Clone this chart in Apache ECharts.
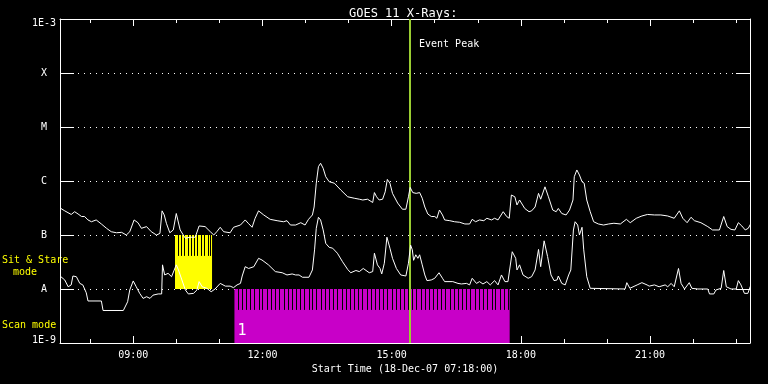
<!DOCTYPE html>
<html>
<head>
<meta charset="utf-8">
<title>GOES 11 X-Rays</title>
<script src="https://cdn.jsdelivr.net/npm/echarts@6/dist/echarts.min.js"></script>
<style>
html, body { margin: 0; padding: 0; background: #000; }
#chart { width: 768px; height: 384px; }
</style>
</head>
<body>
<div id="chart"></div>
<script>
'use strict';

// [hour of day, flux W/m^2]
const longChannel = [
  [7.32, 3.1e-7], [7.41, 2.8e-7], [7.56, 2.4e-7], [7.64, 2.7e-7], [7.72, 2.45e-7], [7.80, 2.2e-7],
  [7.87, 2.2e-7], [7.95, 1.9e-7], [8.03, 1.76e-7], [8.14, 1.9e-7], [8.26, 1.6e-7], [8.38, 1.33e-7],
  [8.49, 1.15e-7], [8.61, 1.1e-7], [8.73, 1.12e-7], [8.84, 1.0e-7], [8.92, 1.15e-7], [9.02, 1.9e-7],
  [9.11, 1.69e-7], [9.19, 1.33e-7], [9.31, 1.43e-7], [9.42, 1.15e-7], [9.54, 1.0e-7], [9.62, 1.07e-7],
  [9.67, 2.8e-7], [9.72, 2.35e-7], [9.77, 1.65e-7], [9.85, 1.1e-7], [9.93, 1.24e-7], [10.00, 2.5e-7],
  [10.04, 2.35e-7], [10.09, 1.24e-7], [10.21, 8.7e-8], [10.32, 9.1e-8], [10.44, 9.1e-8], [10.53, 1.47e-7],
  [10.67, 1.43e-7], [10.79, 1.15e-7], [10.87, 1.0e-7], [10.94, 1.15e-7], [11.02, 1.39e-7], [11.10, 1.15e-7],
  [11.25, 1.1e-7], [11.33, 1.39e-7], [11.49, 1.53e-7], [11.60, 1.9e-7], [11.67, 1.65e-7], [11.76, 1.39e-7],
  [11.83, 2.04e-7], [11.91, 2.8e-7], [12.03, 2.35e-7], [12.18, 1.95e-7], [12.34, 1.84e-7], [12.49, 1.76e-7],
  [12.57, 1.84e-7], [12.65, 1.53e-7], [12.77, 1.53e-7], [12.81, 1.6e-7], [12.89, 1.69e-7], [12.99, 1.53e-7],
  [13.07, 1.95e-7], [13.16, 2.35e-7], [13.20, 3.3e-7], [13.25, 9.1e-7], [13.30, 1.84e-6], [13.35, 2.13e-6],
  [13.41, 1.72e-6], [13.47, 1.2e-6], [13.55, 9.7e-7], [13.67, 9.1e-7], [13.82, 6.8e-7], [13.98, 5.1e-7],
  [14.13, 4.8e-7], [14.25, 4.6e-7], [14.33, 4.45e-7], [14.44, 4.6e-7], [14.56, 4.0e-7], [14.60, 6.1e-7],
  [14.65, 5.1e-7], [14.71, 4.45e-7], [14.79, 4.6e-7], [14.85, 6.3e-7], [14.90, 1.07e-6], [14.96, 9.1e-7],
  [15.02, 5.9e-7], [15.14, 3.9e-7], [15.25, 3.0e-7], [15.33, 3.0e-7], [15.39, 5.1e-7], [15.43, 7.6e-7],
  [15.49, 6.1e-7], [15.57, 5.9e-7], [15.65, 6.1e-7], [15.71, 4.8e-7], [15.77, 3.3e-7], [15.84, 2.45e-7],
  [15.92, 2.2e-7], [16.00, 2.2e-7], [16.05, 2.04e-7], [16.11, 2.9e-7], [16.18, 2.35e-7], [16.23, 1.9e-7],
  [16.35, 1.84e-7], [16.46, 1.76e-7], [16.58, 1.72e-7], [16.70, 1.6e-7], [16.81, 1.6e-7], [16.87, 1.95e-7],
  [16.95, 1.76e-7], [17.04, 1.9e-7], [17.14, 1.84e-7], [17.21, 2.04e-7], [17.32, 1.9e-7], [17.39, 2.04e-7],
  [17.47, 1.9e-7], [17.59, 2.7e-7], [17.67, 2.2e-7], [17.73, 2.04e-7], [17.78, 5.5e-7], [17.86, 5.1e-7],
  [17.91, 3.6e-7], [17.97, 4.45e-7], [18.09, 3.1e-7], [18.19, 2.7e-7], [18.25, 2.8e-7], [18.33, 3.3e-7],
  [18.41, 5.9e-7], [18.46, 4.6e-7], [18.56, 7.8e-7], [18.64, 5.1e-7], [18.74, 2.9e-7], [18.82, 2.7e-7],
  [18.87, 3.1e-7], [18.95, 2.5e-7], [19.05, 2.35e-7], [19.13, 2.9e-7], [19.21, 4.45e-7], [19.24, 1.2e-6],
  [19.30, 1.6e-6], [19.36, 1.29e-6], [19.42, 9.7e-7], [19.47, 9.1e-7], [19.53, 4.45e-7], [19.61, 2.7e-7],
  [19.69, 1.76e-7], [19.80, 1.6e-7], [19.92, 1.53e-7], [20.04, 1.6e-7], [20.16, 1.65e-7], [20.31, 1.6e-7],
  [20.45, 1.95e-7], [20.54, 1.69e-7], [20.68, 2.04e-7], [20.81, 2.25e-7], [20.94, 2.4e-7], [21.10, 2.35e-7],
  [21.25, 2.35e-7], [21.41, 2.25e-7], [21.56, 2.04e-7], [21.68, 2.8e-7], [21.76, 2.04e-7], [21.86, 1.69e-7],
  [21.95, 2.13e-7], [22.03, 1.84e-7], [22.18, 1.69e-7], [22.34, 1.43e-7], [22.45, 1.24e-7], [22.61, 1.24e-7],
  [22.71, 2.2e-7], [22.79, 1.43e-7], [22.88, 1.27e-7], [22.97, 1.24e-7], [23.05, 1.69e-7], [23.13, 1.47e-7],
  [23.21, 1.24e-7], [23.28, 1.33e-7], [23.35, 1.69e-7]
];

const shortChannel = [
  [7.32, 1.69e-8], [7.41, 1.47e-8], [7.49, 1.1e-8], [7.56, 1.19e-8], [7.60, 1.74e-8], [7.68, 1.69e-8],
  [7.76, 1.27e-8], [7.83, 1.19e-8], [7.91, 8.5e-9], [7.95, 6.0e-9], [8.26, 6.0e-9], [8.30, 4.0e-9],
  [8.77, 4.0e-9], [8.87, 5.8e-9], [8.92, 9.6e-9], [9.00, 1.41e-8], [9.07, 1.1e-8], [9.15, 8.3e-9],
  [9.23, 6.7e-9], [9.31, 7.2e-9], [9.39, 6.7e-9], [9.46, 7.7e-9], [9.58, 8.1e-9], [9.66, 8.1e-9],
  [9.68, 2.8e-8], [9.73, 1.82e-8], [9.81, 1.95e-8], [9.89, 1.69e-8], [10.00, 2.8e-8], [10.05, 2.25e-8],
  [10.13, 1.47e-8], [10.21, 9.6e-9], [10.28, 8.1e-9], [10.40, 8.3e-9], [10.48, 9.6e-9], [10.53, 1.37e-8],
  [10.60, 1.1e-8], [10.71, 1.03e-8], [10.81, 8.9e-9], [10.90, 1.0e-8], [11.02, 1.27e-8], [11.14, 1.13e-8],
  [11.25, 1.13e-8], [11.33, 1.06e-8], [11.41, 1.19e-8], [11.49, 1.27e-8], [11.53, 1.74e-8], [11.60, 2.59e-8],
  [11.68, 2.4e-8], [11.80, 2.59e-8], [11.91, 3.7e-8], [11.99, 3.44e-8], [12.14, 2.8e-8], [12.30, 2.1e-8],
  [12.46, 2.0e-8], [12.57, 1.82e-8], [12.69, 1.9e-8], [12.77, 1.82e-8], [12.85, 1.82e-8], [12.93, 1.65e-8],
  [13.08, 1.65e-8], [13.16, 2.25e-8], [13.21, 5.3e-8], [13.25, 1.33e-7], [13.30, 2.13e-7], [13.35, 1.9e-7],
  [13.41, 1.24e-7], [13.47, 7.0e-8], [13.55, 5.9e-8], [13.63, 5.7e-8], [13.74, 4.6e-8], [13.86, 3.2e-8],
  [13.98, 2.3e-8], [14.05, 2.0e-8], [14.17, 2.2e-8], [14.25, 2.1e-8], [14.34, 2.4e-8], [14.48, 2.0e-8],
  [14.56, 2.1e-8], [14.60, 4.6e-8], [14.67, 2.8e-8], [14.73, 2.4e-8], [14.77, 1.9e-8], [14.83, 3.0e-8],
  [14.89, 9.1e-8], [14.96, 5.7e-8], [15.02, 3.7e-8], [15.11, 2.4e-8], [15.21, 1.82e-8], [15.33, 1.74e-8],
  [15.39, 3.0e-8], [15.44, 6.5e-8], [15.48, 5.3e-8], [15.51, 3.4e-8], [15.56, 4.3e-8], [15.61, 3.7e-8],
  [15.65, 4.3e-8], [15.71, 2.8e-8], [15.77, 1.82e-8], [15.82, 1.43e-8], [15.92, 1.47e-8], [16.00, 1.58e-8],
  [16.10, 2.0e-8], [16.18, 1.58e-8], [16.23, 1.37e-8], [16.42, 1.37e-8], [16.54, 1.27e-8], [16.62, 1.24e-8],
  [16.74, 1.27e-8], [16.81, 1.19e-8], [16.87, 1.58e-8], [16.97, 1.27e-8], [17.04, 1.37e-8], [17.12, 1.24e-8],
  [17.21, 1.37e-8], [17.29, 1.19e-8], [17.39, 1.43e-8], [17.47, 1.19e-8], [17.55, 1.82e-8], [17.63, 1.37e-8],
  [17.70, 1.37e-8], [17.80, 4.9e-8], [17.88, 3.7e-8], [17.91, 2.25e-8], [17.97, 2.8e-8], [18.05, 1.82e-8],
  [18.17, 1.58e-8], [18.25, 1.69e-8], [18.33, 2.25e-8], [18.41, 5.4e-8], [18.46, 2.59e-8], [18.54, 7.8e-8],
  [18.62, 4.0e-8], [18.70, 1.82e-8], [18.77, 1.43e-8], [18.84, 1.47e-8], [18.87, 1.74e-8], [18.95, 1.27e-8],
  [19.03, 1.19e-8], [19.11, 1.82e-8], [19.16, 2.25e-8], [19.22, 1.24e-7], [19.26, 1.76e-7], [19.32, 1.53e-7],
  [19.36, 1.0e-7], [19.42, 1.39e-7], [19.46, 5.3e-8], [19.53, 1.69e-8], [19.61, 1.03e-8], [19.65, 1.0e-8],
  [20.42, 1.0e-8], [20.46, 1.31e-8], [20.53, 1.03e-8], [20.70, 1.19e-8], [20.81, 1.31e-8], [20.93, 1.19e-8],
  [20.98, 1.13e-8], [21.10, 1.19e-8], [21.21, 1.1e-8], [21.35, 1.19e-8], [21.41, 1.1e-8], [21.49, 1.27e-8],
  [21.56, 1.1e-8], [21.66, 2.4e-8], [21.72, 1.27e-8], [21.80, 1.0e-8], [21.91, 1.31e-8], [21.97, 1.03e-8],
  [22.11, 1.0e-8], [22.34, 1.0e-8], [22.38, 8.1e-9], [22.48, 8.1e-9], [22.53, 9.6e-9], [22.65, 1.03e-8],
  [22.71, 2.2e-8], [22.77, 1.1e-8], [22.88, 1.0e-8], [23.00, 1.0e-8], [23.05, 1.43e-8], [23.11, 1.19e-8],
  [23.19, 8.3e-9], [23.27, 8.3e-9], [23.33, 1.13e-8]
];

// observing modes: [start hour, end hour, bottom flux, top flux]
const sitStareBlock = [9.97, 10.83, 1e-8, 1e-7];
const scanBlock = [11.35, 17.74, 1e-9, 1e-8];
// raster start times drawn as black ticks inside each block
const sitStareFrames = [10.04, 10.11, 10.19, 10.27, 10.35, 10.42, 10.49, 10.57, 10.65, 10.73, 10.79];
const scanFrames = [
  11.43, 11.53, 11.62, 11.72, 11.81, 11.91, 12.00, 12.11, 12.21, 12.30, 12.39, 12.49, 12.60, 12.69,
  12.77, 12.87, 12.97, 13.07, 13.16, 13.25, 13.35, 13.46, 13.55, 13.64, 13.74, 13.84, 13.93, 14.03,
  14.13, 14.23, 14.32, 14.42, 14.52, 14.62, 14.71, 14.80, 14.90, 15.00, 15.10, 15.19, 15.29, 15.39,
  15.48, 15.57, 15.67, 15.77, 15.86, 15.96, 16.05, 16.15, 16.23, 16.35, 16.44, 16.54, 16.63, 16.73,
  16.83, 16.93, 17.02, 17.12, 17.21, 17.32, 17.41, 17.51, 17.60, 17.70
];
const sitStareFrameFloor = 4.1e-8;
const scanFrameFloor = 4.1e-9;

const eventPeakHour = 15.41;

const labelHours = [9, 12, 15, 18, 21];
const tickHours = [8, 9, 10, 11, 12, 13, 14, 15, 16, 17, 18, 19, 20, 21, 22, 23];
const fluxLabels = { '-9': '1E-9', '-8': 'A', '-7': 'B', '-6': 'C', '-5': 'M', '-4': 'X', '-3': '1E-3' };

const FONT = 'DejaVu Sans Mono';
const WHITE = '#ffffff';

const hourLabel = (h) => String(h).padStart(2, '0') + ':00';

function fluxLabel(v) {
  const e = Math.round(Math.log10(v));
  const txt = fluxLabels[String(e)] || '';
  if (e === -3) return '{top|' + txt + '}';
  if (e === -9) return '{bot|' + txt + '}';
  return txt;
}

function renderBlock(params, api) {
  const p0 = api.coord([api.value(0), api.value(3)]);
  const p1 = api.coord([api.value(1), api.value(2)]);
  const isScan = params.seriesName === 'Scan mode';
  const children = [{
    type: 'rect',
    shape: { x: p0[0], y: p0[1], width: p1[0] - p0[0], height: p1[1] - p0[1] },
    style: { fill: isScan ? '#c800c8' : '#ffff00' }
  }];
  if (isScan) {
    children.push({
      type: 'text',
      style: { text: '1', x: p0[0] + 3, y: p1[1] - 4, fill: WHITE, font: '15px ' + FONT, verticalAlign: 'bottom' }
    });
  }
  return { type: 'group', children };
}

function renderFrame(params, api) {
  const a = api.coord([api.value(0), api.value(1)]);
  const b = api.coord([api.value(0), api.value(2)]);
  const x = Math.round(a[0]) + 0.5;
  return {
    type: 'line',
    shape: { x1: x, y1: a[1], x2: x, y2: b[1] },
    style: { stroke: '#000', lineWidth: 1 }
  };
}

const xBase = {
  type: 'value', min: 7.3, max: 23.32, gridIndex: 0,
  splitLine: { show: false },
  axisLine: { show: false }
};

const yBase = { type: 'log', logBase: 10, min: 1e-9, max: 1e-3 };

const chart = echarts.init(document.getElementById('chart'));

chart.setOption({
  backgroundColor: '#000',
  animation: false,
  title: {
    text: 'GOES 11 X-Rays:',
    left: 344, top: 3,
    textStyle: { color: WHITE, fontFamily: FONT, fontSize: 12, fontWeight: 'normal' }
  },
  grid: { left: 60, right: 18, top: 19, bottom: 41, containLabel: false, outerBoundsMode: 'none' },
  xAxis: [
    Object.assign({}, xBase, {
      position: 'bottom',
      axisLine: { show: true, lineStyle: { color: WHITE, width: 1 } },
      axisTick: { inside: true, length: 7, customValues: labelHours, lineStyle: { color: WHITE } },
      axisLabel: { customValues: labelHours, formatter: hourLabel, color: WHITE, fontFamily: FONT, fontSize: 10, margin: 7 },
      name: 'Start Time (18-Dec-07 07:18:00)',
      nameLocation: 'middle', nameGap: 21,
      nameTextStyle: { color: WHITE, fontFamily: FONT, fontSize: 10 }
    }),
    Object.assign({}, xBase, {
      position: 'bottom',
      axisTick: { inside: true, length: 4, customValues: tickHours, lineStyle: { color: WHITE } },
      axisLabel: { show: false }
    }),
    Object.assign({}, xBase, {
      position: 'top',
      axisLine: { show: true, lineStyle: { color: WHITE, width: 1 } },
      axisTick: { inside: true, length: 7, customValues: labelHours, lineStyle: { color: WHITE } },
      axisLabel: { show: false }
    }),
    Object.assign({}, xBase, {
      position: 'top',
      axisTick: { inside: true, length: 4, customValues: tickHours, lineStyle: { color: WHITE } },
      axisLabel: { show: false }
    })
  ],
  yAxis: [
    Object.assign({}, yBase, {
      position: 'left',
      axisLine: { show: true, lineStyle: { color: WHITE } },
      axisTick: { inside: true, length: 14, lineStyle: { color: WHITE } },
      axisLabel: {
        color: WHITE, fontFamily: FONT, fontSize: 10, align: 'center', margin: 16,
        formatter: fluxLabel,
        rich: {
          top: { color: WHITE, fontFamily: FONT, fontSize: 10, padding: [8, 0, 0, 0] },
          bot: { color: WHITE, fontFamily: FONT, fontSize: 10, padding: [0, 0, 6, 0] }
        }
      },
      splitLine: { show: true, lineStyle: { color: WHITE, width: 1, type: [1, 5] } }
    }),
    Object.assign({}, yBase, {
      position: 'right',
      axisLine: { show: true, lineStyle: { color: WHITE } },
      axisTick: { inside: true, length: 14, lineStyle: { color: WHITE } },
      axisLabel: { show: false },
      splitLine: { show: false }
    })
  ],
  graphic: [
    { type: 'text', left: 2, top: 255, style: { text: 'Sit & Stare', fill: '#ffff00', font: '10px ' + FONT } },
    { type: 'text', left: 13, top: 267, style: { text: 'mode', fill: '#ffff00', font: '10px ' + FONT } },
    { type: 'text', left: 2, top: 320, style: { text: 'Scan mode', fill: '#ffff00', font: '10px ' + FONT } },
    { type: 'text', left: 419, top: 39, style: { text: 'Event Peak', fill: WHITE, font: '10px ' + FONT } }
  ],
  series: [
    {
      name: 'Sit & Stare mode', type: 'custom', z: 1, silent: true,
      renderItem: renderBlock,
      encode: { x: [0, 1], y: [2, 3] },
      data: [sitStareBlock]
    },
    {
      name: 'Scan mode', type: 'custom', z: 1, silent: true,
      renderItem: renderBlock,
      encode: { x: [0, 1], y: [2, 3] },
      data: [scanBlock]
    },
    {
      name: 'Sit & Stare frames', type: 'custom', z: 2, silent: true,
      renderItem: renderFrame,
      encode: { x: 0, y: [1, 2] },
      data: sitStareFrames.map((t) => [t, sitStareBlock[3], sitStareFrameFloor])
    },
    {
      name: 'Scan frames', type: 'custom', z: 2, silent: true,
      renderItem: renderFrame,
      encode: { x: 0, y: [1, 2] },
      data: scanFrames.map((t) => [t, scanBlock[3], scanFrameFloor])
    },
    {
      name: '1-8 A', type: 'line', z: 5, showSymbol: false, silent: true,
      lineStyle: { color: WHITE, width: 1 },
      data: longChannel,
      markLine: {
        silent: true, symbol: 'none', label: { show: false },
        lineStyle: { color: '#9acd32', width: 2, type: 'solid' },
        data: [{ xAxis: eventPeakHour }]
      }
    },
    {
      name: '0.5-4 A', type: 'line', z: 5, showSymbol: false, silent: true,
      lineStyle: { color: WHITE, width: 1 },
      data: shortChannel
    }
  ]
});
</script>
</body>
</html>
